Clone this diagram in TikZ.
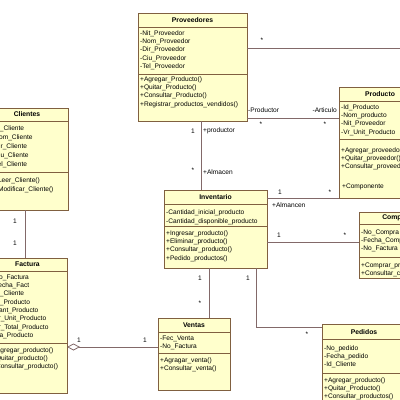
\documentclass[tikz,border=0pt]{standalone}
\usepackage{fontspec}
\setmainfont{Liberation Sans}
\usetikzlibrary{arrows.meta}
\definecolor{relleno}{RGB}{255,255,204}
\definecolor{borde}{RGB}{128,96,64}
\definecolor{enlace}{RGB}{130,105,105}
\tikzset{
  clase/.style={draw=borde, fill=relleno, line width=0.8pt, inner sep=0pt, outer sep=0pt},
  separa/.style={draw=borde, line width=0.8pt},
  titulo/.style={font=\fontsize{6.8}{8}\selectfont\bfseries, inner sep=0pt},
  item/.style={font=\fontsize{6.6}{8}\selectfont, inner sep=0pt, anchor=base west},
  rol/.style={font=\fontsize{6.6}{8}\selectfont, inner sep=0pt},
  enlace/.style={draw=enlace, line width=0.8pt},
}
\begin{document}
\begin{tikzpicture}[x=1pt,y=-1pt]
\useasboundingbox (0,0) rectangle (400,400);
\clip (0,0) rectangle (400,400);
\fill[white] (0,0) rectangle (400,400);

% Clases
\node[clase, minimum width=109pt, minimum height=108pt] (prov) at (192.5,67) {};
\node[clase, minimum width=82pt, minimum height=111pt] (prod) at (380,142.5) {};
\node[clase, minimum width=82pt, minimum height=102pt] (cli) at (27,159) {};
\node[clase, minimum width=79pt, minimum height=135pt] (fact) at (27.5,325.5) {};
\node[clase, minimum width=103pt, minimum height=78pt] (inv) at (215.5,229) {};
\node[clase, minimum width=76pt, minimum height=66pt] (comp) at (397,245) {};
\node[clase, minimum width=72pt, minimum height=72pt] (vent) at (194,354) {};
\node[clase, minimum width=84pt, minimum height=80pt] (ped) at (364,364) {};

% Compartimentos
\foreach \c/\t/\d in {prov/27/74, prod/101/139, cli/121/172, fact/271/343,
                      inv/204/226, comp/224/257, vent/332/353, ped/339/373} {
  \draw[separa] (\c.west |- 0,\t) -- (\c.east |- 0,\t);
  \draw[separa] (\c.west |- 0,\d) -- (\c.east |- 0,\d);
}

% Titulos
\node[titulo] (provT) at (192.5,20) {Proveedores};
\node[titulo] (prodT) at (380,94) {Producto};
\node[titulo] (cliT) at (27,114.5) {Clientes};
\node[titulo] (factT) at (27.5,264.5) {Factura};
\node[titulo] (invT) at (215.5,197) {Inventario};
\node[titulo] (compT) at (397,218) {Compras};
\node[titulo] (ventT) at (194,325) {Ventas};
\node[titulo] (pedT) at (364,332) {Pedidos};

% Proveedores
\foreach \t [count=\i from 0] in {-Nit\_Proveedor, -Nom\_Proveedor, -Dir\_Proveedor, -Ciu\_Proveedor, -Tel\_Proveedor}
  \node[item] at (140,35.3+8.3*\i) {\t};
\foreach \t [count=\i from 0] in {+Agregar\_Producto(), +Quitar\_Producto(), +Consultar\_Producto(), +Registrar\_productos\_vendidos()}
  \node[item] at (140,81.3+8.3*\i) {\t};

% Producto
\foreach \t [count=\i from 0] in {-Id\_Producto, -Nom\_producto, -Nit\_Proveedor, -Vr\_Unit\_Producto}
  \node[item] at (341,109.3+8.3*\i) {\t};
\foreach \t [count=\i from 0] in {+Agregar\_proveedor(), +Quitar\_proveedor(), +Consultar\_proveedor()}
  \node[item] at (341,152.3+8.3*\i) {\t};

% Clientes
\foreach \t [count=\i from 0] in {-Id\_Cliente, -Nom\_Cliente, -Dir\_Cliente, -Ciu\_Cliente, -Tel\_Cliente}
  \node[item] at (-8,130.3+9*\i) {\t};
\foreach \t [count=\i from 0] in {+Leer\_Cliente(), +Modificar\_Cliente()}
  \node[item] at (-6,182.3+9*\i) {\t};

% Factura
\foreach \t [count=\i from 0] in {-No\_Factura, -Fecha\_Fact, -Id\_Cliente, -Id\_Producto, -Cant\_Producto, -Vr\_Unit\_Producto, -Vr\_Total\_Producto, -Iva\_Producto}
  \node[item] at (-8,279.3+8.3*\i) {\t};
\foreach \t [count=\i from 0] in {+Agregar\_producto(), +Quitar\_producto(), +Consultar\_producto()}
  \node[item] at (-8,352.3+8.3*\i) {\t};

% Inventario
\foreach \t [count=\i from 0] in {-Cantidad\_inicial\_producto, -Cantidad\_disponible\_producto}
  \node[item] at (166,214.8+8.3*\i) {\t};
\foreach \t [count=\i from 0] in {+Ingresar\_producto(), +Eliminar\_producto(), +Consultar\_producto(), +Pedido\_productos()}
  \node[item] at (166,235.3+8.3*\i) {\t};

% Compras
\foreach \t [count=\i from 0] in {-No\_Compra, -Fecha\_Compra, -No\_Factura}
  \node[item] at (361,234.3+8*\i) {\t};
\foreach \t [count=\i from 0] in {+Comprar\_producto(), +Consultar\_compra()}
  \node[item] at (361,267.3+8*\i) {\t};

% Ventas
\foreach \t [count=\i from 0] in {-Fec\_Venta, -No\_Factura}
  \node[item] at (160,340.3+8.5*\i) {\t};
\foreach \t [count=\i from 0] in {+Agragar\_venta(), +Consultar\_venta()}
  \node[item] at (160,362.3+8.5*\i) {\t};

% Pedidos
\foreach \t [count=\i from 0] in {-No\_pedido, -Fecha\_pedido, -Id\_Cliente}
  \node[item] at (324,350.3+8*\i) {\t};
\foreach \t [count=\i from 0] in {+Agregar\_producto(), +Quitar\_Producto(), +Consultar\_productos()}
  \node[item] at (324,382.3+8*\i) {\t};

% Asociaciones
\coordinate (fuera) at (400,48);
\draw[enlace] (prov.east |- 0,48) -- (fuera);
\draw[enlace] (prov.east |- 0,118) -- (prod.west |- 0,118);
\draw[enlace] (prov.south -| 201,0) -- (inv.north -| 201,0);
\draw[enlace] (inv.east |- 0,198) -- (prod.south west);
\draw[enlace] (inv.east |- 0,242) -- (comp.west |- 0,242);
\draw[enlace] (inv.south -| 209,0) -- (vent.north -| 209,0);
\draw[enlace] (inv.south -| 256,0) |- (ped.west |- 0,327);
\draw[enlace] (cli.south -| 25,0) -- (fact.north -| 25,0);
\draw[enlace, {Diamond[open, length=13pt, width=7pt]}-] (fact.east |- 0,347) -- (vent.west |- 0,347);

% Multiplicidades y roles
\node[rol] at (262,40) {*};
\node[rol, anchor=west] at (248,110) {-Productor};
\node[rol] at (261,124) {*};
\node[rol, anchor=east] at (337,110) {-Articulo};
\node[rol] at (325,124) {*};
\node[rol] at (193,131) {1};
\node[rol, anchor=west] at (203,131) {+productor};
\node[rol] at (193,170) {*};
\node[rol, anchor=west] at (203,172) {+Almacen};
\node[rol] at (280,192) {1};
\node[rol] at (330,192) {*};
\node[rol, anchor=west] at (272,205) {+Almancen};
\node[rol, anchor=west] at (342,187) {+Componente};
\node[rol] at (279,235) {1};
\node[rol] at (345,235) {*};
\node[rol] at (200,278) {1};
\node[rol] at (200,303) {*};
\node[rol] at (248,278) {1};
\node[rol] at (307,334) {*};
\node[rol] at (15,221) {1};
\node[rol] at (15,243) {1};
\node[rol] at (79,340) {1};
\node[rol] at (145,340) {1};
\end{tikzpicture}
\end{document}
